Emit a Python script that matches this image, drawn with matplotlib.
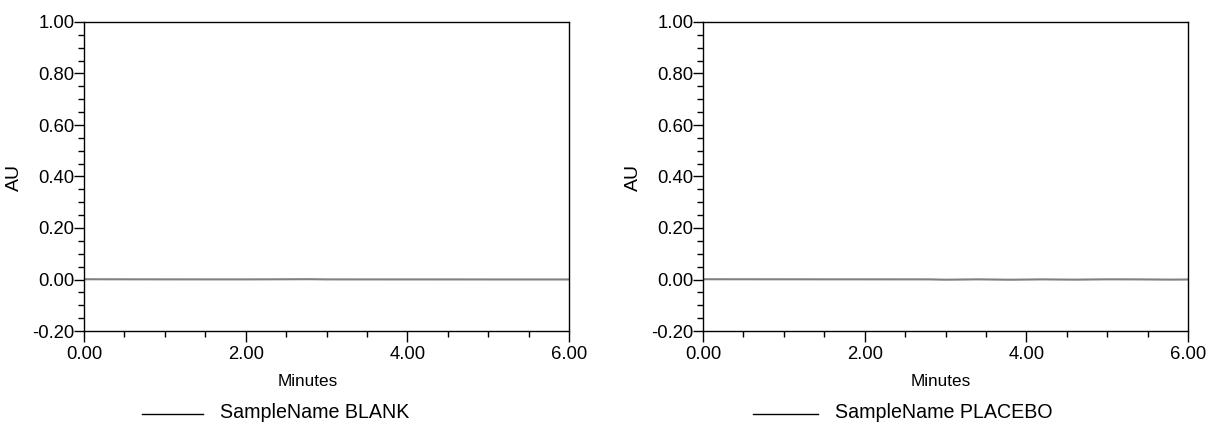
import matplotlib
matplotlib.use("Agg")
import matplotlib.pyplot as plt
from matplotlib.ticker import MultipleLocator, FormatStrFormatter
from matplotlib.lines import Line2D

plt.rcParams['font.family'] = ['Liberation Sans', 'DejaVu Sans']

# Data (flat baselines near zero)
blank_time = [0.02, 1.0, 2.0, 2.8, 3.0, 4.0, 5.0, 6.0]
blank_au = [0.001, 0.0005, 0.0004, 0.0012, 0.0004, 0.0003, 0.0002, 0.0002]

placebo_time = [0.02, 1.0, 2.0, 2.8, 3.0, 3.4, 3.8, 4.2, 4.6, 5.0, 5.4, 5.8, 6.0]
placebo_au = [0.001, 0.0008, 0.0006, 0.0005, -0.0008, 0.0006, -0.0009, 0.0005, -0.0006, 0.0007, 0.0004, -0.0005, 0.0]

panels = [
    ("SampleName BLANK", blank_time, blank_au),
    ("SampleName PLACEBO", placebo_time, placebo_au),
]

W, H = 1211, 429
fig = plt.figure(figsize=(W / 100, H / 100), dpi=100)

ax_lefts = [84, 703]
minutes_x = [0.462, 0.49]
au_x = [14, 633]
legend_line = [(142, 203, 220), (753, 818, 835)]

for i, (name, t, v) in enumerate(panels):
    x0 = ax_lefts[i]
    ax = fig.add_axes([x0 / W, (H - 331) / H, 485 / W, 309 / H])
    ax.plot(t, v, color='#808080', linewidth=1.5)
    ax.set_xlim(0, 6)
    ax.set_ylim(-0.2, 1.0)
    ax.xaxis.set_major_locator(MultipleLocator(2))
    ax.xaxis.set_minor_locator(MultipleLocator(0.5))
    ax.yaxis.set_major_locator(MultipleLocator(0.2))
    ax.yaxis.set_minor_locator(MultipleLocator(0.05))
    ax.xaxis.set_major_formatter(FormatStrFormatter('%.2f'))
    ax.yaxis.set_major_formatter(FormatStrFormatter('%.2f'))
    ax.tick_params(axis='x', which='major', direction='out', length=8, width=1, pad=3, labelsize=13.3)
    ax.tick_params(axis='x', which='minor', direction='out', length=4, width=1)
    ax.tick_params(axis='y', which='major', direction='out', length=7, width=1, pad=0, labelsize=13.3)
    ax.tick_params(axis='y', which='minor', direction='out', length=4, width=1)
    for s in ax.spines.values():
        s.set_linewidth(1)
    ax.set_xlabel("Minutes", fontsize=12.3)
    ax.xaxis.set_label_coords(minutes_x[i], -0.14)
    fig.text(au_x[i] / W, 1 - 178 / H, "AU", rotation=90, ha='center', va='center', fontsize=14)
    lx0, lx1, tx = legend_line[i]
    fig.add_artist(Line2D([lx0 / W, lx1 / W], [1 - 414 / H, 1 - 414 / H], color='black', linewidth=1))
    fig.text(tx / W, 1 - 413 / H, name, ha='left', va='center', fontsize=14.1)

fig.savefig("out.png", dpi=100)
